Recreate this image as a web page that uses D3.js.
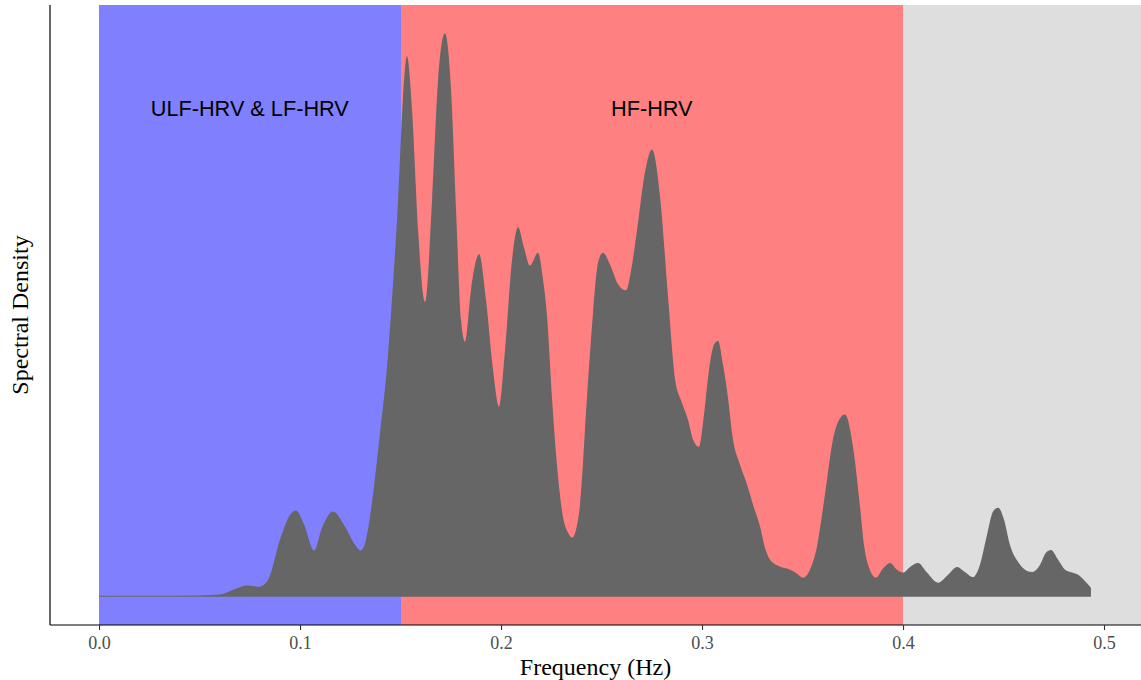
<!DOCTYPE html>
<html>
  <head>
    <title>Spectral Density</title>
    <meta charset="utf-8" />
    <script src="https://d3js.org/d3.v7.min.js"></script>
    <style>
      body { margin: 0; background: #fff; }
    </style>
  </head>
  <body>
    <svg id="chart" width="1141" height="680"></svg>

    <script>
      // frequency bands
      const bandNames = ["ULF-HRV & LF-HRV", "HF-HRV", ""];
      const bandStart = [0, 0.15, 0.4];
      const bandEnd = [0.15, 0.4, Infinity];
      const bandColors = ["#8080FF", "#FF8080", "#DEDEDE"];

      // spectral density (arbitrary units)
      const freq = [
        0.000, 0.0254, 0.0502, 0.0602, 0.0677, 0.0736, 0.0796, 0.0841, 0.0900, 0.0950,
        0.0980, 0.1020, 0.1070, 0.1109, 0.1164, 0.1224, 0.1274, 0.1303, 0.1328, 0.1348,
        0.1398, 0.1433, 0.1463, 0.1488, 0.1512, 0.1532, 0.1557, 0.1587, 0.1622, 0.1657,
        0.1687, 0.1721, 0.1751, 0.1776, 0.1801, 0.1821, 0.1851, 0.1891, 0.1925, 0.1960,
        0.1990, 0.2020, 0.2055, 0.2085, 0.2114, 0.2144, 0.2184, 0.2209, 0.2229, 0.2254,
        0.2279, 0.2308, 0.2333, 0.2353, 0.2373, 0.2393, 0.2428, 0.2458, 0.2483, 0.2507,
        0.2542, 0.2582, 0.2622, 0.2652, 0.2677, 0.2716, 0.2751, 0.2791, 0.2831, 0.2866,
        0.2900, 0.2930, 0.2955, 0.2985, 0.3010, 0.3035, 0.3060, 0.3080, 0.3104, 0.3124,
        0.3154, 0.3189, 0.3224, 0.3254, 0.3289, 0.3313, 0.3338, 0.3378, 0.3438, 0.3473,
        0.3502, 0.3537, 0.3572, 0.3597, 0.3622, 0.3647, 0.3672, 0.3711, 0.3751, 0.3786,
        0.3806, 0.3826, 0.3866, 0.3900, 0.3935, 0.3970, 0.4000, 0.4035, 0.4075, 0.4119,
        0.4174, 0.4224, 0.4269, 0.4308, 0.4348, 0.4383, 0.4418, 0.4448, 0.4473, 0.4502,
        0.4532, 0.4572, 0.4607, 0.4642, 0.4682, 0.4711, 0.4736, 0.4771, 0.4806, 0.4841,
        0.4871, 0.4905, 0.4935
      ];
      const density = [
        0.2, 0.2, 0.25, 0.4, 1.4, 2.0, 1.8, 3.0, 10.1, 14.5,
        15.3, 12.8, 8.2, 12.2, 15.1, 12.4, 9.2, 8.2, 10.1, 14.2,
        29.1, 40.8, 55.7, 70.4, 88.2, 95.8, 86.4, 65.1, 52.3, 70.4,
        91.7, 99.9, 90.0, 68.7, 49.1, 45.2, 54.5, 60.7, 52.7, 40.3,
        33.7, 43.8, 59.8, 65.5, 61.9, 58.7, 61.0, 56.2, 49.7, 35.0,
        23.1, 14.2, 11.4, 10.5, 11.9, 16.3, 35.5, 50.4, 59.3, 61.0,
        58.9, 55.4, 54.3, 58.9, 65.1, 75.2, 79.3, 71.0, 53.2, 38.5,
        34.4, 31.4, 27.9, 26.6, 32.3, 40.3, 44.7, 45.4, 41.2, 36.7,
        27.9, 23.4, 19.9, 16.3, 12.4, 8.7, 6.6, 5.5, 4.8, 4.1,
        3.4, 4.8, 8.9, 14.5, 20.8, 27.0, 30.6, 32.3, 26.6, 16.0,
        9.2, 5.7, 3.4, 5.0, 6.0, 4.8, 4.3, 5.3, 6.0, 4.3,
        2.5, 3.9, 5.3, 4.4, 3.5, 5.7, 11.0, 15.1, 15.8, 13.7,
        9.2, 6.2, 4.8, 4.4, 5.7, 7.8, 8.3, 6.6, 4.8, 4.3,
        3.9, 2.8, 1.6
      ];
      const xTicks = [0, 0.1, 0.2, 0.3, 0.4, 0.5];

      const width = 1141;
      const height = 680;
      const margin = { top: 5, right: 0, bottom: 55, left: 50 };
      const svg = d3.select("#chart");
      const serif = "'Liberation Serif', 'Times New Roman', serif";
      const sans = "'Liberation Sans', Arial, sans-serif";

      const points = freq.map((f, i) => ({ f: f, d: density[i] }));

      // scales
      const xScale = d3
        .scaleLinear()
        .domain([-0.0244, 0.5184])
        .range([margin.left, width - margin.right]);
      const yMax = d3.max(density);
      const yScale = d3
        .scaleLinear()
        .domain([-0.05 * yMax, 1.05 * yMax])
        .range([height - margin.bottom, margin.top]);

      const xMaxDom = xScale.domain()[1];
      const [yLo, yHi] = yScale.domain();

      // background bands
      svg
        .append("g")
        .attr("shape-rendering", "crispEdges")
        .selectAll("rect")
        .data(bandStart)
        .join("rect")
        .attr("x", (d) => Math.round(xScale(d)))
        .attr("width", (d, i) =>
          Math.round(xScale(Math.min(bandEnd[i], xMaxDom))) - Math.round(xScale(d))
        )
        .attr("y", yScale(yHi))
        .attr("height", yScale(yLo) - yScale(yHi))
        .attr("fill", (d, i) => bandColors[i]);

      // density area
      const area = d3
        .area()
        .x((d) => xScale(d.f))
        .y0(yScale(0))
        .y1((d) => yScale(d.d))
        .curve(d3.curveMonotoneX);

      svg
        .append("path")
        .datum(points)
        .attr("fill", "#666666")
        .attr("stroke", "none")
        .attr("d", area);

      // band labels
      svg
        .append("g")
        .selectAll("text")
        .data(bandNames.slice(0, 2))
        .join("text")
        .attr("x", (d, i) => xScale((bandStart[i] + bandEnd[i]) / 2))
        .attr("y", yScale(86.6))
        .attr("dy", "0.35em")
        .attr("text-anchor", "middle")
        .attr("font-family", sans)
        .attr("font-size", "21.7px")
        .attr("fill", "#000")
        .text((d) => d);

      // x axis
      const xAxis = d3
        .axisBottom(xScale)
        .tickValues(xTicks)
        .tickFormat(d3.format(".1f"))
        .tickSize(5)
        .tickPadding(6);
      const gx = svg
        .append("g")
        .attr("transform", `translate(0,${height - margin.bottom})`)
        .call(xAxis);
      gx.select(".domain")
        .attr("d", `M${margin.left},0H${width}`)
        .attr("stroke", "#000")
        .attr("stroke-width", 1.2);
      gx.selectAll(".tick line").attr("stroke", "#333").attr("stroke-width", 1.1);
      gx.selectAll(".tick text")
        .attr("font-family", serif)
        .attr("font-size", "18px")
        .attr("fill", "#4D4D4D");

      // y axis line only
      svg
        .append("line")
        .attr("x1", margin.left)
        .attr("x2", margin.left)
        .attr("y1", margin.top)
        .attr("y2", height - margin.bottom)
        .attr("stroke", "#000")
        .attr("stroke-width", 1.2);

      // axis titles
      svg
        .append("text")
        .attr("x", (margin.left + width) / 2)
        .attr("y", 675)
        .attr("text-anchor", "middle")
        .attr("font-family", serif)
        .attr("font-size", "24px")
        .attr("fill", "#000")
        .text("Frequency (Hz)");

      svg
        .append("text")
        .attr("transform", "rotate(-90)")
        .attr("x", -(margin.top + height - margin.bottom) / 2)
        .attr("y", 28)
        .attr("text-anchor", "middle")
        .attr("font-family", serif)
        .attr("font-size", "24px")
        .attr("fill", "#000")
        .text("Spectral Density");
    </script>
  </body>
</html>
